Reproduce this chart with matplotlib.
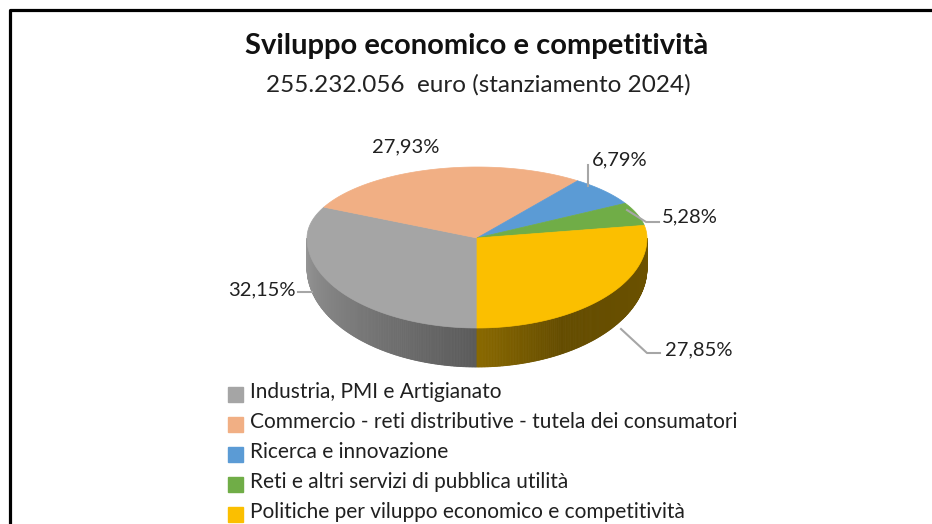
import numpy as np
import matplotlib.pyplot as plt
import matplotlib.colors as mcolors

# dati
categorie = ["Industria, PMI e Artigianato",
             "Commercio - reti distributive - tutela dei consumatori",
             "Ricerca e innovazione",
             "Reti e altri servizi di pubblica utilità",
             "Politiche per viluppo economico e competitività"]
percentuali = [32.15, 27.93, 6.79, 5.28, 27.85]
etichette = ["32,15%", "27,93%", "6,79%", "5,28%", "27,85%"]
colori = ["#A5A5A5", "#F1AF84", "#5B9BD5", "#70AD47", "#FBBF00"]

titolo = "Sviluppo economico e competitività"
sottotitolo = "255.232.056  euro (stanziamento 2024)"

plt.rcParams['font.family'] = ['Lato', 'DejaVu Sans']

fig = plt.figure(figsize=(9.32, 5.24), dpi=100)
ax = fig.add_axes([0, 0, 1, 1])
ax.set_xlim(0, 932)
ax.set_ylim(524, 0)
ax.axis('off')

# geometria della torta 3D (pixel)
cx, cy = 477, 238
rx, ry_t, ry_b = 170, 71, 90

def punto(theta, giu=0.0):
    t = np.radians(theta)
    s = np.sin(t)
    ry = ry_t if s > 0 else ry_b
    return cx + rx * np.cos(t), cy - ry * s + giu

def spessore(theta):
    return 30 + 9 * max(0.0, -np.sin(np.radians(theta)))

# angoli: partenza ore 6, senso orario
fine = []
inizio = []
a = 270.0
for p in percentuali:
    inizio.append(a)
    a = a - p / 100 * 360
    fine.append(a)

def fetta_di(theta):
    for i in range(len(percentuali)):
        lo, hi = fine[i], inizio[i]
        for k in (-360, 0, 360):
            if lo <= theta + k <= hi:
                return i
    return 0

def ombra(i, theta):
    base = np.array(mcolors.to_rgb(colori[i]))
    if i == 0:
        f = np.interp(theta, [180, 270], [0.92, 0.55])
    else:
        f = np.interp(theta, [270, 300, 360], [0.55, 0.40, 0.43])
    return base * f

# pareti laterali
ang = np.linspace(180, 360, 361)
for t0, t1 in zip(ang[:-1], ang[1:]):
    tm = (t0 + t1) / 2
    i = fetta_di(tm)
    x0, y0 = punto(t0)
    x1, y1 = punto(t1)
    xb1, yb1 = punto(t1, spessore(t1))
    xb0, yb0 = punto(t0, spessore(t0))
    c = ombra(i, tm)
    ax.fill([x0, x1, xb1, xb0], [y0, y1, yb1, yb0], color=c, lw=0.6, ec=c)

# faccia superiore
for i in range(len(percentuali)):
    th = np.linspace(inizio[i], fine[i], 120)
    pts = [punto(t) for t in th]
    xs = [cx] + [p[0] for p in pts]
    ys = [cy] + [p[1] for p in pts]
    ax.fill(xs, ys, color=colori[i], lw=0.5, ec=colori[i])

# etichette e linee guida
pos_etichette = [(262, 290), (406, 147), (620, 160), (690, 217), (699, 350)]
guide = [
    [(298, 292), (312, 292)],
    None,
    [(588, 165), (588, 186)],
    [(659, 222), (646, 222), (627, 210)],
    [(660, 353), (647, 353), (621, 329)],
]
for i, lab in enumerate(etichette):
    x, y = pos_etichette[i]
    ax.text(x, y, lab, fontsize=14.5, ha='center', va='center', color='#202020')
    if guide[i]:
        g = np.array(guide[i])
        ax.plot(g[:, 0], g[:, 1], color='#A6A6A6', lw=1.5)

# titolo
ax.text(477, 46, titolo, fontsize=21, fontweight='bold', ha='center', va='center', color='#111111')
ax.text(478, 85, sottotitolo, fontsize=17.5, ha='center', va='center', color='#222222')

# legenda
y0 = 394.5
for i, cat in enumerate(categorie):
    y = y0 + i * 30
    ax.add_patch(plt.Rectangle((228, y - 7.5), 15, 15, color=colori[i]))
    ax.text(250, y + 4, cat, fontsize=15, ha='left', va='baseline', color='#202020')

# cornice
ax.plot([9.5, 9.5, 932], [524, 9.5, 9.5], color='black', lw=2.3, solid_capstyle='projecting')

fig.savefig("out.png", dpi=100)
